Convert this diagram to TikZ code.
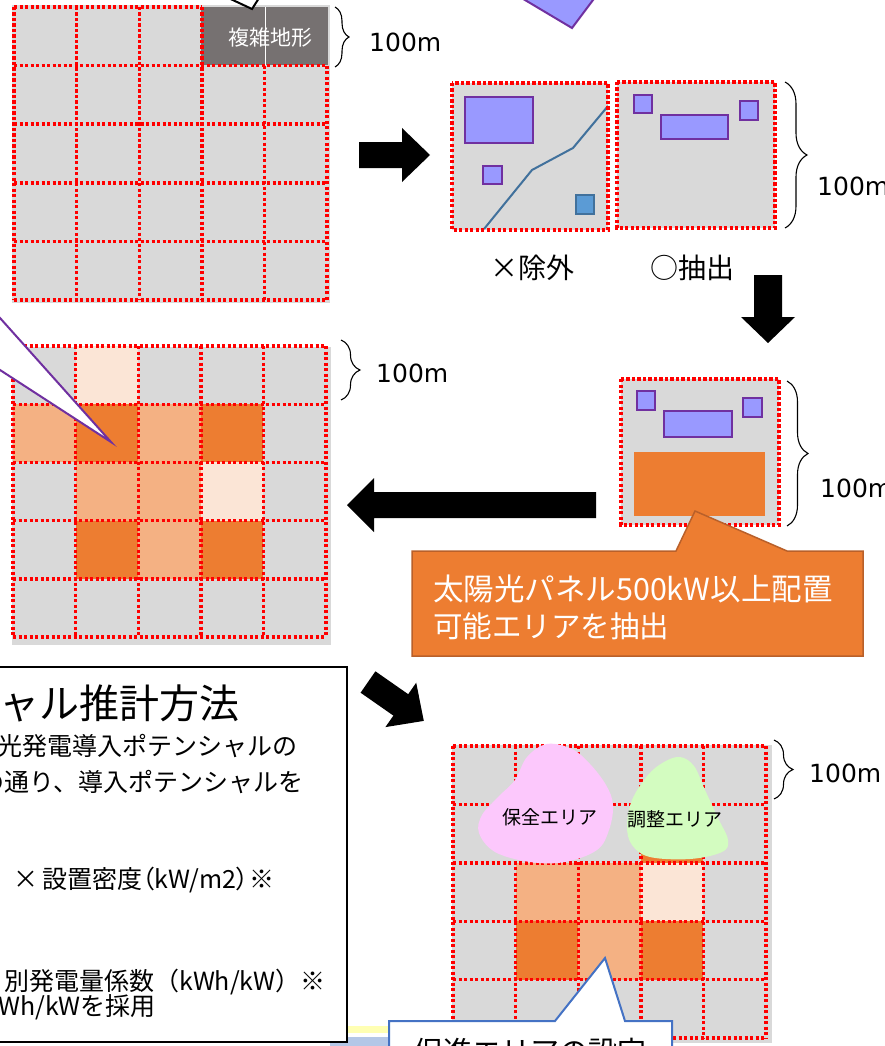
\documentclass[tikz,border=0pt]{standalone}
\usepackage{fontspec}
\newfontfamily\jp{Noto Sans CJK JP}
\newfontfamily\jpp[RawFeature=+palt]{Noto Sans CJK JP}
\newfontfamily\dv{DejaVu Sans}
\usetikzlibrary{decorations.pathreplacing}
\definecolor{cgray}{HTML}{D9D9D9}
\definecolor{cdark}{HTML}{ED7D31}
\definecolor{cmid}{HTML}{F4B183}
\definecolor{clight}{HTML}{FBE5D6}
\definecolor{rockgray}{HTML}{767171}
\definecolor{ppfill}{HTML}{9999FF}
\definecolor{ppline}{HTML}{7030A0}
\definecolor{bfill}{HTML}{5B9BD5}
\definecolor{bline}{HTML}{41719C}
\definecolor{oline}{HTML}{B9602A}
\definecolor{pinkblob}{HTML}{FCC8FC}
\definecolor{greenblob}{HTML}{D3FCC0}
\definecolor{cblue}{HTML}{4472C4}
\definecolor{stripy}{HTML}{FFFFB3}
\definecolor{stripb}{HTML}{B4C7E7}
\tikzset{
  cellborder/.style={draw=red, line width=3.4, dash pattern=on 3.2 off 2.3},
  brk/.style={decorate, decoration={brace, amplitude=#1}, line width=1.1},
  purp/.style={fill=ppfill, draw=ppline, line width=2},
  meter/.style={font=\dv\fontsize{25}{25}\selectfont, anchor=west, inner sep=0},
  jtxt/.style={font=\jp\fontsize{#1}{#1}\selectfont, inner sep=0},
}
\begin{document}
\begin{tikzpicture}[x=1pt,y=-1pt]
\clip (0,0) rectangle (885,1046);
\fill[white] (0,0) rectangle (885,1046);
% bottom background strips
\fill[stripy] (330,1026) rectangle (400,1033);
\fill[stripb] (330,1037) rectangle (400,1046);

% ---------- grid 1 ----------
\fill[cgray] (12,5) rectangle (330,303);
\fill[rockgray] (201,7) rectangle (328,65);
\draw[white, line width=0.8] (265,7) -- (265,65);
\draw[cellborder] (14,7) -- (201.8,7);
\foreach \j in {1,...,5} \draw[cellborder] (14,{7+58.6*\j}) -- (327,{7+58.6*\j});
\foreach \i in {0,...,3} \draw[cellborder] ({14+62.6*\i},7) -- ({14+62.6*\i},300);
\foreach \i in {4,5} \draw[cellborder] ({14+62.6*\i},65.6) -- ({14+62.6*\i},300);
\node[jtxt=21, text=white] (fukuzatsu) at (270,38) {複雑地形};
% top partial callouts
\fill[white] (222,-5) -- (252,9) -- (261,-5) -- cycle;
\draw[black, line width=2] (222,-5) -- (252,9) -- (261,-5);
\filldraw[purp] (516.6,-5) -- (572,28) -- (596.8,-5) -- cycle;
% bracket 1
\draw[brk=14] (335,7) -- (335,67);
\node[meter] (m1) at (369,42) {100m};

% ---------- right arrow ----------
\fill[black] (359,142) -- (402,142) -- (402,128) -- (430,155) -- (402,182) -- (402,168) -- (359,168) -- cycle;

% ---------- panels 1,2 ----------
\fill[cgray] (452,83) rectangle (608,230);
\filldraw[purp] (465,97) rectangle (533,143);
\filldraw[purp] (483,166) rectangle (502,184);
\filldraw[fill=bfill, draw=bline, line width=2] (576,195) rectangle (594,214);
\draw[bline, line width=2] (484,229) -- (532,170) -- (573,148) -- (608,106);
\draw[cellborder] (452,83) rectangle (608,230);
\fill[cgray] (617,82) rectangle (775,228);
\filldraw[purp] (634,95) rectangle (652,113);
\filldraw[purp] (661,115) rectangle (728,139);
\filldraw[purp] (740,101) rectangle (758,120);
\draw[cellborder] (617,82) rectangle (775,228);
\draw[brk=22] (785,82) -- (785,228);
\node[meter] (m2) at (817,186) {100m};
\node[jtxt=28, anchor=west] (jogai) at (490,268) {×除外};
\node[jtxt=28, anchor=west] (chushutsu) at (650,268) {○抽出};

% ---------- down arrow ----------
\fill[black] (754,275) -- (782,275) -- (782,317) -- (795,317) -- (768,343) -- (741,317) -- (754,317) -- cycle;

% ---------- grid 2 ----------
\fill[cgray] (12,347) rectangle (331,645);
\foreach \c/\r/\k in {1/0/clight, 0/1/cmid, 1/1/cdark, 2/1/cmid, 3/1/cdark, 1/2/cmid, 2/2/cmid, 3/2/clight, 1/3/cdark, 2/3/cmid, 3/3/cdark}
  \fill[\k] ({13+62.6*\c},{346+58.2*\r}) rectangle ++(62.6,58.2);
\foreach \j in {0,...,5} \draw[cellborder] (13,{346+58.2*\j}) -- (326,{346+58.2*\j});
\foreach \i in {0,...,5} \draw[cellborder] ({13+62.6*\i},346) -- ({13+62.6*\i},637);
% callout tail into grid 2
\fill[white] (-10,306.8) -- (111,442) -- (-10,363.5) -- cycle;
\draw[ppline, line width=2] (-10,306.8) -- (111,442) -- (-10,363.5);
\draw[brk=19] (341,340) -- (341,400);
\node[meter] (m3) at (376,373) {100m};

% ---------- left arrow ----------
\fill[black] (596,492) -- (374,492) -- (374,478) -- (347,505) -- (374,532) -- (374,518) -- (596,518) -- cycle;

% ---------- panel 3 ----------
\fill[cgray] (621,379) rectangle (779,525);
\filldraw[purp] (637,391) rectangle (655,410);
\filldraw[purp] (664,411) rectangle (732,437);
\filldraw[purp] (743,398) rectangle (762,417);
\fill[cdark] (634,452) rectangle (765,516);
\draw[cellborder] (621,379) rectangle (779,525);
\draw[brk=21] (787,381) -- (787,526);
\node[meter] (m4) at (820,488) {100m};
% orange callout
\filldraw[fill=cdark, draw=oline, line width=1.5] (412,551) -- (676,551) -- (695,511) -- (787,551) -- (863,551) -- (863,656) -- (412,656) -- cycle;
\node[jtxt=30.5, text=white, anchor=west] (ol1) at (433,589) {太陽光パネル500kW以上配置};
\node[jtxt=29.5, text=white, anchor=west] (ol2) at (433,626) {可能エリアを抽出};

% ---------- text box ----------
\filldraw[fill=white, draw=black, line width=2] (-5,667) rectangle (347,1042);
\node[jtxt=40, anchor=east] (title) at (240,703) {ャル推計方法};
\node[jtxt=25, anchor=east] (b1) at (298,746) {光発電導入ポテンシャルの};
\node[jtxt=25, anchor=east] (b2) at (304,782) {の通り、導入ポテンシャルを};
\node[font=\jpp\fontsize{25}{25}\selectfont, inner sep=0, anchor=west] (b3) at (13,880) {×\,設置密度（kW/m2）※};
\node[jtxt=25, anchor=west] (b4) at (4,982) {別発電量係数（kWh/kW）※};
\node[jtxt=25, anchor=east] (b5) at (156,1007) {Wh/kWを採用};

% ---------- diagonal arrow ----------
\fill[black] (375.4,671.3) -- (408.2,694.2) -- (416.2,682.7) -- (423.8,720.9) -- (385.4,727.1) -- (393.4,715.6) -- (360.6,692.7) -- cycle;

% ---------- grid 4 ----------
\fill[cgray] (452,745) rectangle (772,1043);
\foreach \c/\r/\k in {3/1/cdark, 1/2/cmid, 2/2/cmid, 3/2/clight, 1/3/cdark, 2/3/cmid, 3/3/cdark}
  \fill[\k] ({453+62.6*\c},{746+58.4*\r}) rectangle ++(62.6,58.4);
\foreach \j in {0,...,5} \draw[cellborder] (453,{746+58.4*\j}) -- (766,{746+58.4*\j});
\foreach \i in {0,...,5} \draw[cellborder] ({453+62.6*\i},746) -- ({453+62.6*\i},1038);
\fill[pinkblob] plot[smooth cycle, tension=0.6] coordinates {(547,744) (572,749) (590,764) (606,785) (613,805) (609,830) (597,850) (565,862) (530,862) (495,852) (479,833) (482,815) (498,797) (515,780) (527,757)};
\fill[greenblob] plot[smooth cycle, tension=0.6] coordinates {(680,757) (694,766) (705,790) (718,818) (728,840) (722,852) (690,859) (650,857) (632,845) (627,826) (632,800) (648,775) (664,762)};
\node[jtxt=19] (hozen) at (550,817) {保全エリア};
\node[jtxt=19] (chosei) at (675,819) {調整エリア};
\draw[brk=19] (774,740) -- (774,799);
\node[meter] (m5) at (809,773) {100m};
% bottom callout
\filldraw[fill=white, draw=cblue, line width=2] (389,1021) -- (555,1021) -- (605,958) -- (625,1021) -- (672,1021) -- (672,1070) -- (389,1070) -- cycle;
\node[jtxt=29, anchor=base] (sokushin) at (530,1062) {促進エリアの設定};
\end{tikzpicture}
\end{document}
